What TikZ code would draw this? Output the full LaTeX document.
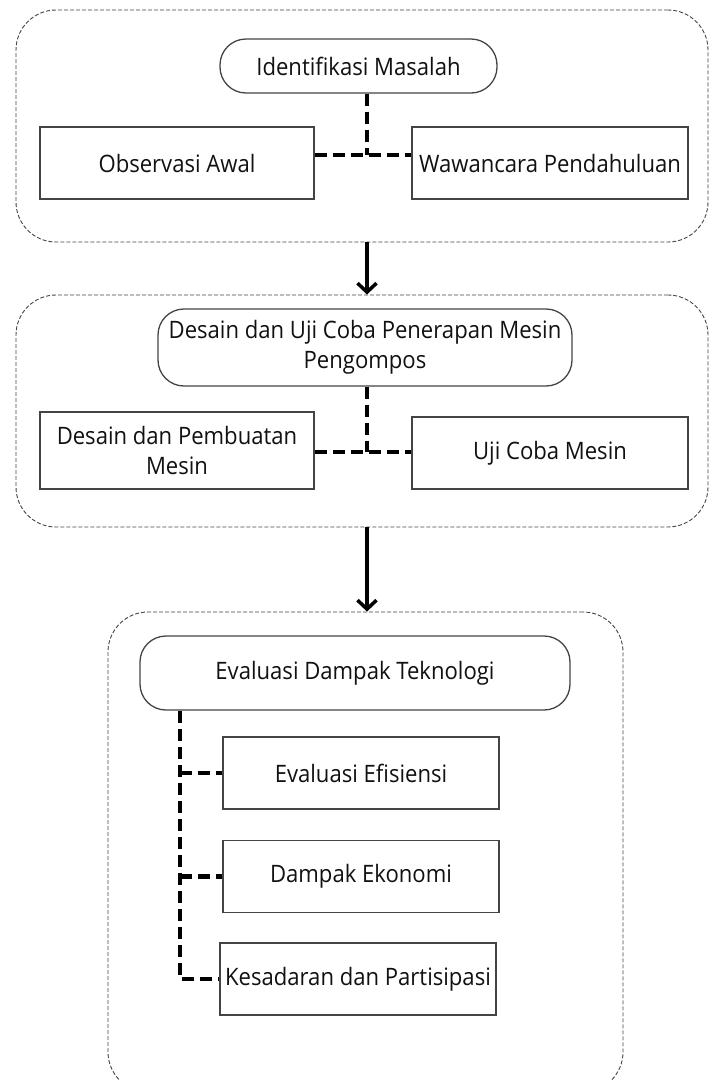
\documentclass[tikz,border=0pt]{standalone}
\usepackage{fontspec}
\setmainfont[FakeStretch=0.92]{Open Sans}
\usetikzlibrary{arrows.meta}
\definecolor{txt}{HTML}{111111}
\definecolor{edge}{HTML}{444444}
\tikzset{
  group/.style={draw=edge, line width=0.9pt, dash pattern=on 4pt off 2pt, rounded corners=40pt, inner sep=0pt},
  pill/.style={draw=edge, line width=1.3pt, rounded corners=26pt, align=center, text=txt, inner sep=0pt, font=\fontsize{24}{30}\selectfont},
  box/.style={draw=edge, line width=1.3pt, align=center, text=txt, inner sep=0pt, font=\fontsize{24}{30}\selectfont},
  conn/.style={draw=black, line width=4.5pt, dash pattern=on 12pt off 6pt},
  flow/.style={draw=black, line width=3.5pt, -{Straight Barb[length=9pt,width=19pt,line width=3.5pt]}}
}
\begin{document}
\begin{tikzpicture}[x=1pt,y=-1pt]
\useasboundingbox (0,0) rectangle (709,1080);
% group frames
\node[group, minimum width=692pt, minimum height=232pt] (g1) at (362,126) {};
\node[group, minimum width=692pt, minimum height=232pt] (g2) at (362,411) {};
\node[group, minimum width=515pt, minimum height=480pt] (g3) at (365.5,852) {};
% group 1
\node[pill, minimum width=277pt, minimum height=54pt] (ident) at (358.5,66) {Identifikasi Masalah};
\node[box, minimum width=274pt, minimum height=72pt] (obs) at (177,163) {Observasi Awal};
\node[box, minimum width=276pt, minimum height=72pt] (waw) at (550,163) {Wawancara Pendahuluan};
\coordinate (j1) at (367,155);
\draw[conn] (j1 |- ident.south) -- (j1);
\draw[conn] (obs.east |- j1) -- (waw.west |- j1);
% group 2
\node[pill, minimum width=414pt, minimum height=77pt] (desuji) at (365,347.5) {Desain dan Uji Coba Penerapan Mesin\\Pengompos};
\node[box, minimum width=274pt, minimum height=77pt] (desain) at (177,450.5) {Desain dan Pembuatan\\Mesin};
\node[box, minimum width=276pt, minimum height=72pt] (uji) at (550,453) {Uji Coba Mesin};
\coordinate (j2) at (367,452);
\draw[conn] (j2 |- desuji.south) -- (j2);
\draw[conn] (desain.east |- j2) -- (uji.west |- j2);
% group 3
\node[pill, minimum width=430pt, minimum height=74pt] (evd) at (355,673) {Evaluasi Dampak Teknologi};
\node[box, minimum width=276pt, minimum height=72pt] (eff) at (361,773) {Evaluasi Efisiensi};
\node[box, minimum width=276pt, minimum height=72pt] (eko) at (361,876.5) {Dampak Ekonomi};
\node[box, minimum width=276pt, minimum height=72pt] (kes) at (358,979) {Kesadaran dan Partisipasi};
\coordinate (t3) at (180,979);
\draw[conn] (t3 |- evd.south) -- (t3) -- (kes.west);
\draw[conn] (t3 |- eff.west) -- (eff.west);
\draw[conn] (t3 |- eko.west) -- (eko.west);
% flow arrows
\draw[flow] (g1.south -| j1) -- (g2.north -| j1);
\draw[flow] (g2.south -| j1) -- (g3.north -| j1);
\end{tikzpicture}
\end{document}
